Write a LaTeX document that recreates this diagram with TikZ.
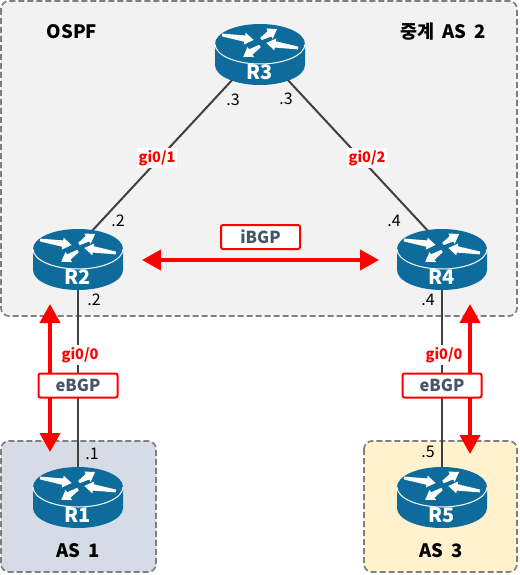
\documentclass[tikz,border=0pt]{standalone}
\usepackage{fontspec}
\setmainfont{Noto Sans CJK KR}
\usetikzlibrary{arrows.meta,backgrounds}
\definecolor{routerblue}{HTML}{0E6C9C}
\definecolor{boxtext}{HTML}{44546A}
\definecolor{dashgrey}{HTML}{7F7F7F}
\definecolor{ospfbg}{HTML}{F2F2F2}
\definecolor{asonebg}{HTML}{D6DCE5}
\definecolor{asthreebg}{HTML}{FFF2CC}
\definecolor{linkgrey}{HTML}{404040}
\tikzset{
  region/.style={draw=dashgrey,line width=1.7pt,dash pattern=on 6pt off 3pt,rounded corners=8pt},
  link/.style={draw=linkgrey,line width=2pt},
  bgparrow/.style={draw=red,line width=4pt,{Triangle[length=19pt,width=20pt]}-{Triangle[length=19pt,width=20pt]}},
  bgpbox/.style={draw=red,fill=white,line width=2pt,rounded corners=2pt,minimum width=79pt,minimum height=24pt,inner sep=0pt,text=boxtext,font=\fontsize{16.5}{17}\selectfont\bfseries},
  portlabel/.style={fill=white,text=red,inner sep=2pt,font=\fontsize{14.5}{15}\selectfont\bfseries},
  addr/.style={inner sep=0pt,text=black,font=\fontsize{16}{16}\selectfont},
  title/.style={inner sep=0pt,text=black,font=\fontsize{18.5}{19}\selectfont\bfseries,execute at begin node={\spaceskip=.42em\relax}},
  routerbox/.style={minimum width=90pt,minimum height=60pt,inner sep=0pt},
  routername/.style={inner sep=0pt,text=white,font=\fontsize{20}{20}\selectfont\bfseries}
}
\newcommand{\wedgearrow}[3]{%
  \begin{scope}[shift={(#1)},rotate=#2]
    \fill[white] (0,-1.4)--(#3-9,-3.2)--(#3-9,-6)--(#3,0)--(#3-9,6)--(#3-9,3.2)--(0,1.4)--cycle;
  \end{scope}}
\newcommand{\router}[4]{%
  \node[routerbox] (#1) at (#3,#4+11) {};
  \coordinate (#1up) at (#3,#4+6);
  \coordinate (#1down) at (#3,#4-3);
  \begin{scope}[shift={(#3,#4)}]
    \fill[routerblue] (-45,0) -- (-45,21) arc[x radius=45,y radius=20,start angle=180,end angle=0] -- (45,0) -- cycle;
    \fill[routerblue] (0,0) ellipse[x radius=45,y radius=20];
    \draw[white,line width=1pt] (-45,0) arc[x radius=45,y radius=20,start angle=180,end angle=0];
    \wedgearrow{-38,-9}{-9}{32}
    \wedgearrow{1,-5}{32}{19}
    \wedgearrow{38,4}{171}{32}
    \wedgearrow{0,2}{213}{20}
  \end{scope}
  \node[routername] (#1name) at (#3,#4+28) {#2};}
\begin{document}
\begin{tikzpicture}[x=1pt,y=-1pt]
\useasboundingbox (0,0) rectangle (519,575);
\begin{scope}[on background layer]
  \fill[white] (0,0) rectangle (519,575);
  \draw[region,fill=ospfbg] (1,1) rectangle (517,316);
  \draw[region,fill=asonebg] (1,441) rectangle (156,572);
  \draw[region,fill=asthreebg] (364,441) rectangle (517,572);
\end{scope}
\router{R3}{R3}{260}{44}
\router{R2}{R2}{78}{249}
\router{R4}{R4}{442}{249}
\router{R1}{R1}{78}{487}
\router{R5}{R5}{442}{487}
\begin{scope}[on background layer]
  \draw[link] (R3up) -- (R2down);
  \draw[link] (R3up) -- (R4down);
  \draw[link] (R2) -- (R1);
  \draw[link] (R4) -- (R5);
\end{scope}
\node[title] (ospf) at (72,32) {OSPF};
\node[title] (transit) at (443,32) {중계 AS 2};
\node[title] (as1) at (78,551) {AS 1};
\node[title] (as3) at (441,551) {AS 3};
\node[portlabel] (p31) at (157,158) {gi0/1};
\node[portlabel] (p32) at (367,158) {gi0/2};
\node[portlabel] (p21) at (80,355) {gi0/0};
\node[portlabel] (p45) at (444,355) {gi0/0};
\coordinate (ibgpL) at (142,260);
\coordinate (ibgpR) at (379,260);
\coordinate (ebgpLt) at (50,304);
\coordinate (ebgpLb) at (50,452);
\coordinate (ebgpRt) at (470,304);
\coordinate (ebgpRb) at (470,454);
\draw[bgparrow] (ibgpL) -- (ibgpR);
\draw[bgparrow] (ebgpLt) -- (ebgpLb);
\draw[bgparrow] (ebgpRt) -- (ebgpRb);
\node[bgpbox] (ibgp) at (260.5,237) {iBGP};
\node[bgpbox] (ebgpL) at (78,385.5) {eBGP};
\node[bgpbox] (ebgpR) at (442,385.5) {eBGP};
\node[addr] at (233,100) {.3};
\node[addr] at (286,99) {.3};
\node[addr] at (118,221) {.2};
\node[addr] at (94,300) {.2};
\node[addr] at (394,221) {.4};
\node[addr] at (428,300) {.4};
\node[addr] at (92,454) {.1};
\node[addr] at (428,452) {.5};
\end{tikzpicture}
\end{document}
